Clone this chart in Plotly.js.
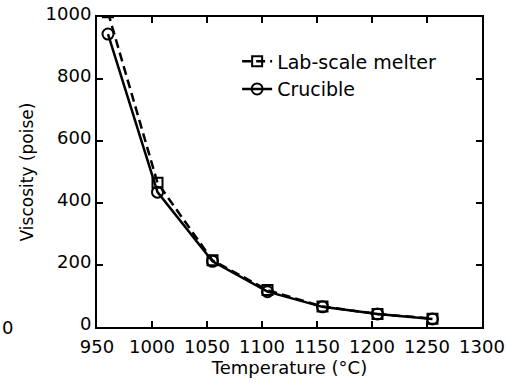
<!DOCTYPE html>
<html><head><meta charset="utf-8">
<script src="https://cdn.plot.ly/plotly-3.0.1.min.js"></script>
<style>html,body{margin:0;padding:0;background:#fff}#chart{width:507px;height:384px}</style>
</head><body><div id="chart"></div>
<script>
const temperature = [960, 1005, 1055, 1105, 1155, 1205, 1255];
const labScaleMelter = [1015, 465, 215, 119, 66, 42, 27];
const crucible = [945, 435, 212, 114, 65, 42, 26];
const xTicks = [950, 1000, 1050, 1100, 1150, 1200, 1250, 1300];
const yTicks = [0, 200, 400, 600, 800, 1000];

const fam = '"DejaVu Sans", sans-serif';
const font = {family: fam, size: 18, color: '#000'};
const traces = [
  {x: temperature, y: labScaleMelter, name: 'Lab-scale melter', mode: 'lines+markers',
   line: {color: '#000', width: 2.5, dash: '9px,5px'},
   marker: {symbol: 'square-open', size: 10, color: '#000', line: {width: 2}}},
  {x: temperature, y: crucible, name: 'Crucible', mode: 'lines+markers',
   line: {color: '#000', width: 2.5},
   marker: {symbol: 'circle-open', size: 11, color: '#000', line: {width: 2}}}
];
const axisCommon = {showgrid: false, zeroline: false, showline: true, linecolor: '#000', linewidth: 2,
  mirror: 'ticks', ticks: 'inside', ticklen: 6, tickwidth: 2, tickcolor: '#000', tickfont: font};
const layout = {
  width: 507, height: 384, paper_bgcolor: '#fff', plot_bgcolor: '#fff',
  margin: {l: 97, r: 25, t: 17, b: 57},
  font: font, showlegend: true,
  legend: {x: 0.364, y: 0.918, xanchor: 'left', yanchor: 'top', bgcolor: 'rgba(0,0,0,0)',
    font: {family: fam, size: 19, color: '#000'}, tracegroupgap: 0},
  xaxis: Object.assign({}, axisCommon, {range: [950, 1300], tickvals: xTicks,
    ticktext: xTicks.map(String), ticklabelstandoff: 2,
    title: {text: 'Temperature (°C)', font: {family: fam, size: 18, color: '#000'}, standoff: 0}}),
  yaxis: Object.assign({}, axisCommon, {range: [0, 1000], tickvals: yTicks,
    ticktext: yTicks.map(String), ticklabelshift: -3,
    title: {text: 'Viscosity (poise)', font: {family: fam, size: 17, color: '#000'}, standoff: 8}}),
  annotations: [{text: '0', x: 0, y: 0, xref: 'paper', yref: 'y', xanchor: 'left', yanchor: 'middle',
    showarrow: false, font: font, xshift: -97}]
};
Plotly.newPlot('chart', traces, layout, {staticPlot: true});
</script></body></html>
